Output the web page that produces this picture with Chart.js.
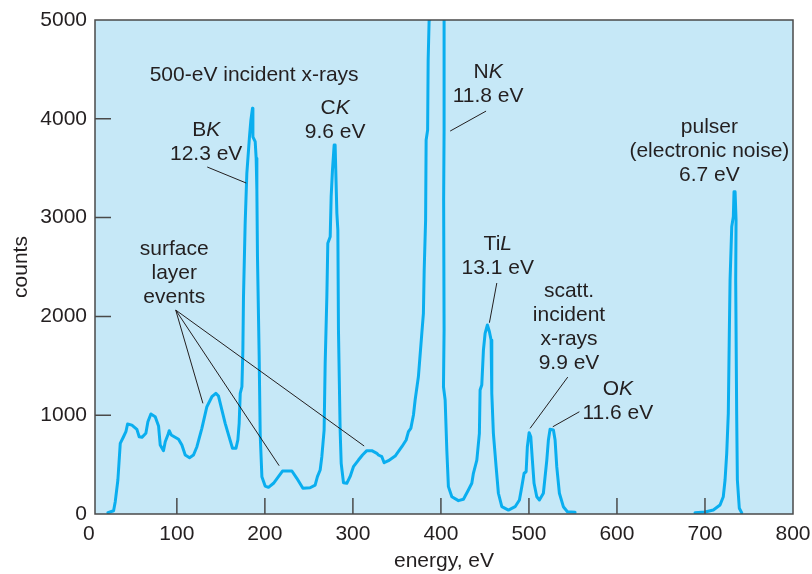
<!DOCTYPE html>
<html>
<head>
<meta charset="utf-8">
<script src="https://cdn.jsdelivr.net/npm/chart.js@4.4.1/dist/chart.umd.min.js"></script>
<style>
  html, body { margin: 0; padding: 0; background: #ffffff; }
  canvas { display: block; }
</style>
</head>
<body>
<canvas id="spectrum" width="812" height="574"></canvas>
<script>
// Axis ticks
const xTickValues = [0, 100, 200, 300, 400, 500, 600, 700, 800];
const yTickValues = [0, 1000, 2000, 3000, 4000, 5000];

// Main detector spectrum (energy in eV, counts)
const spectrumEnergy = [
  21.7, 28.1, 30.0, 33.0, 35.7, 39.4, 42.1, 44.0, 48.9, 54.6, 57.2, 60.3, 64.8, 67.1, 70.5, 75.4,
  79.2, 81.1, 84.8, 86.8, 90.5, 91.3, 93.6, 101.9, 105.7, 109.5, 114.4, 118.9, 122.8, 128.4, 134.1,
  139.8, 144.3, 147.3, 151.2, 154.9, 158.7, 163.2, 167.1, 169.3, 170.8, 172.0, 173.9, 175.0, 175.7,
  177.6, 179.5, 182.5, 184.1, 185.9, 186.4, 189.0, 190.1, 190.9, 191.6, 193.5, 194.7, 196.6, 200.3,
  204.1, 209.8, 215.4, 220.0, 230.7, 236.3, 243.2, 251.4, 257.1, 259.7, 262.8, 264.7, 267.3, 268.5,
  270.4, 271.5, 274.2, 275.3, 276.8, 278.7, 279.8, 281.8, 282.9, 283.6, 285.5, 286.7, 289.3, 293.1,
  296.8, 300.6, 306.3, 310.9, 315.8, 321.5, 327.2, 329.0, 332.9, 335.5, 340.4, 348.0, 355.6, 360.5,
  363.1, 365.8, 368.8, 370.7, 374.4, 378.3, 380.1, 381.0, 382.6, 383.2, 384.9, 385.5, 386.6, 387.4,
  403.6, 403.6, 403.1, 403.6, 402.9, 404.8, 406.7, 408.5, 412.4, 419.9, 425.6, 431.2, 435.1, 436.9,
  440.8, 443.7, 444.5, 446.4, 448.3, 450.2, 452.8, 455.1, 457.0, 457.8, 459.6, 462.7, 465.3, 469.2,
  476.7, 484.3, 489.2, 491.9, 494.5, 496.8, 498.2, 500.2, 502.1, 503.9, 505.8, 508.9, 511.9, 516.4,
  520.3, 522.1, 524.0, 527.8, 529.7, 531.6, 534.6, 539.1, 543.7, 552.4
];
const spectrumCounts = [
  13, 33, 125, 344, 715, 782, 833, 911, 900, 857, 782, 776, 817, 934, 1012, 985,
  891, 698, 641, 732, 817, 843, 800, 756, 698, 597, 570, 597, 681, 867, 1086,
  1187, 1221, 1194, 1052, 918, 800, 665, 665, 749, 918, 1221, 1288, 1660, 2199,
  2942, 3448, 3818, 3987, 4106, 3818, 3768, 3600, 3279, 2600, 1600, 800, 378, 283,
  270, 311, 378, 435, 435, 361, 260, 266, 293, 378, 445, 580, 850, 1525,
  2199, 2740, 2806, 3211, 3481, 3734, 3734, 3043, 2874, 1862, 850, 513, 317, 311,
  378, 479, 546, 597, 641, 641, 614, 597, 580, 519, 540, 587, 681, 749,
  833, 867, 1002, 1154, 1389, 1829, 2031, 2470, 2975, 3785, 3886, 4594, 4999, 5400,
  5400, 3886, 3178, 1862, 1288, 1154, 648, 277, 175, 135, 149, 243, 311, 412,
  546, 817, 1255, 1305, 1660, 1829, 1913, 1845, 1761, 1221, 817, 479, 210, 74,
  40, 74, 142, 277, 412, 428, 681, 823, 782, 546, 311, 175, 142, 210,
  546, 749, 857, 850, 749, 479, 210, 74, 23, 17
];

// Pulser peak (electronic noise)
const pulserEnergy = [
  688.7, 700.1, 709.5, 717.1, 720.8, 722.8, 724.7, 726.5, 727.7, 728.5, 730.4, 732.2, 733.0,
  734.2, 735.3, 734.9, 736.0, 736.8, 739.0, 741.7
];
const pulserCounts = [
  13, 20, 40, 91, 175, 344, 614, 1019, 1862, 2368, 2908, 3009, 3262,
  3262, 2975, 2368, 1019, 344, 58, 13
];

// Peak labels: text between underscores is set in italics
const peakLabels = [
  { lines: ['500-eV incident x-rays'], energy: 187.8, counts: 4443 },
  { lines: ['B_K_', '12.3 eV'], energy: 133.3, counts: 3886 },
  { lines: ['C_K_', '9.6 eV'], energy: 279.8, counts: 4109 },
  { lines: ['N_K_', '11.8 eV'], energy: 453.6, counts: 4470 },
  { lines: ['Ti_L_', '13.1 eV'], energy: 464.6, counts: 2733 },
  { lines: ['scatt.', 'incident', 'x-rays', '9.9 eV'], energy: 545.5, counts: 2257 },
  { lines: ['O_K_', '11.6 eV'], energy: 601.0, counts: 1265 },
  { lines: ['pulser', '(electronic noise)', '6.7 eV'], energy: 705.0, counts: 3916 },
  { lines: ['surface', 'layer', 'events'], energy: 97.0, counts: 2682 }
];

// Leader lines from labels to features: [energy1, counts1, energy2, counts2]
const leaderLines = [
  [134.5, 3512, 178.8, 3350],
  [451.3, 4078, 410.5, 3876],
  [463.5, 2338, 455.1, 1936],
  [544.1, 1386, 501.3, 867],
  [557.3, 1035, 527.1, 883],
  [98.7, 2064, 129.6, 1120],
  [98.7, 2064, 216.2, 489],
  [98.7, 2064, 312.8, 688]
];

const FONT_FAMILY = "'Liberation Sans', Arial, sans-serif";
const FONT_SIZE = 21;
const TEXT_COLOR = '#231f20';
const FRAME_COLOR = '#4a4a4a';
const LINE_COLOR = '#0aaeef';
const PANEL_COLOR = '#c6e8f7';
const LINE_GAP = 24;
const TICK_LEN = 16;

function toPoints(xs, ys) {
  return xs.map((x, i) => ({ x: x, y: ys[i] }));
}

const panelBackground = {
  id: 'panelBackground',
  beforeDraw(chart) {
    const { ctx, chartArea: a } = chart;
    ctx.save();
    ctx.fillStyle = PANEL_COLOR;
    ctx.fillRect(a.left, a.top, a.right - a.left, a.bottom - a.top);
    ctx.restore();
  }
};

const frameAndTicks = {
  id: 'frameAndTicks',
  afterDraw(chart) {
    const { ctx, chartArea: a, scales } = chart;
    ctx.save();
    ctx.strokeStyle = FRAME_COLOR;
    ctx.lineWidth = 1.5;
    ctx.strokeRect(a.left, a.top, a.right - a.left, a.bottom - a.top);
    ctx.beginPath();
    xTickValues.forEach(v => {
      const px = scales.x.getPixelForValue(v);
      if (px <= a.left + 1 || px >= a.right - 1) return;
      ctx.moveTo(px, a.bottom);
      ctx.lineTo(px, a.bottom - TICK_LEN);
    });
    yTickValues.forEach(v => {
      const py = scales.y.getPixelForValue(v);
      if (py <= a.top + 1 || py >= a.bottom - 1) return;
      ctx.moveTo(a.left, py);
      ctx.lineTo(a.left + TICK_LEN, py);
    });
    ctx.stroke();
    ctx.restore();
  }
};

function drawRichLine(ctx, text, cx, cy) {
  const parts = text.split('_');
  const fonts = parts.map((_, i) => (i % 2 ? 'italic ' : '') + FONT_SIZE + 'px ' + FONT_FAMILY);
  let total = 0;
  const widths = parts.map((p, i) => { ctx.font = fonts[i]; const w = ctx.measureText(p).width; total += w; return w; });
  let x = cx - total / 2;
  parts.forEach((p, i) => {
    ctx.font = fonts[i];
    ctx.fillText(p, x, cy);
    x += widths[i];
  });
}

const annotations = {
  id: 'annotations',
  afterDraw(chart) {
    const { ctx, scales } = chart;
    ctx.save();
    ctx.strokeStyle = TEXT_COLOR;
    ctx.lineWidth = 1;
    ctx.beginPath();
    leaderLines.forEach(([e1, c1, e2, c2]) => {
      ctx.moveTo(scales.x.getPixelForValue(e1), scales.y.getPixelForValue(c1));
      ctx.lineTo(scales.x.getPixelForValue(e2), scales.y.getPixelForValue(c2));
    });
    ctx.stroke();
    ctx.fillStyle = TEXT_COLOR;
    ctx.textBaseline = 'middle';
    ctx.textAlign = 'left';
    peakLabels.forEach(lbl => {
      const cx = scales.x.getPixelForValue(lbl.energy);
      const cy = scales.y.getPixelForValue(lbl.counts);
      lbl.lines.forEach((line, i) => drawRichLine(ctx, line, cx, cy + i * LINE_GAP));
    });
    ctx.restore();
  }
};

const lineStyle = {
  showLine: true,
  borderColor: LINE_COLOR,
  backgroundColor: LINE_COLOR,
  borderWidth: 3,
  pointRadius: 0,
  tension: 0,
  fill: false,
  borderJoinStyle: 'round',
  borderCapStyle: 'round'
};

new Chart(document.getElementById('spectrum'), {
  type: 'scatter',
  data: {
    datasets: [
      Object.assign({ label: 'spectrum', data: toPoints(spectrumEnergy, spectrumCounts) }, lineStyle),
      Object.assign({ label: 'pulser', data: toPoints(pulserEnergy, pulserCounts) }, lineStyle)
    ]
  },
  options: {
    responsive: false,
    animation: false,
    devicePixelRatio: 1,
    layout: { padding: { top: 20, right: 19, left: 0, bottom: 0 } },
    plugins: { legend: { display: false }, tooltip: { enabled: false } },
    scales: {
      x: {
        type: 'linear',
        min: 7,
        max: 800,
        afterBuildTicks: scale => { scale.ticks = xTickValues.map(v => ({ value: v })); },
        afterFit: scale => {
          scale.height = 60;
          scale.paddingLeft = 0;
          scale.paddingRight = 0;
        },
        grid: { display: false, drawTicks: false },
        border: { display: false },
        ticks: {
          autoSkip: false,
          maxRotation: 0,
          padding: 8,
          color: TEXT_COLOR,
          font: { family: FONT_FAMILY, size: FONT_SIZE },
          callback: v => String(v)
        },
        title: {
          display: true,
          text: 'energy, eV',
          color: TEXT_COLOR,
          font: { family: FONT_FAMILY, size: FONT_SIZE },
          padding: { top: 0, bottom: 0 }
        }
      },
      y: {
        type: 'linear',
        min: 0,
        max: 5000,
        afterBuildTicks: scale => { scale.ticks = yTickValues.map(v => ({ value: v })); },
        afterFit: scale => {
          scale.width = 95;
          scale.paddingTop = 0;
          scale.paddingBottom = 0;
        },
        grid: { display: false, drawTicks: false },
        border: { display: false },
        ticks: {
          padding: 8,
          color: TEXT_COLOR,
          font: { family: FONT_FAMILY, size: FONT_SIZE },
          callback: v => String(v)
        },
        title: {
          display: true,
          text: 'counts',
          color: TEXT_COLOR,
          font: { family: FONT_FAMILY, size: FONT_SIZE },
          padding: { top: 9, bottom: 0 }
        }
      }
    }
  },
  plugins: [panelBackground, frameAndTicks, annotations]
});
</script>
</body>
</html>
